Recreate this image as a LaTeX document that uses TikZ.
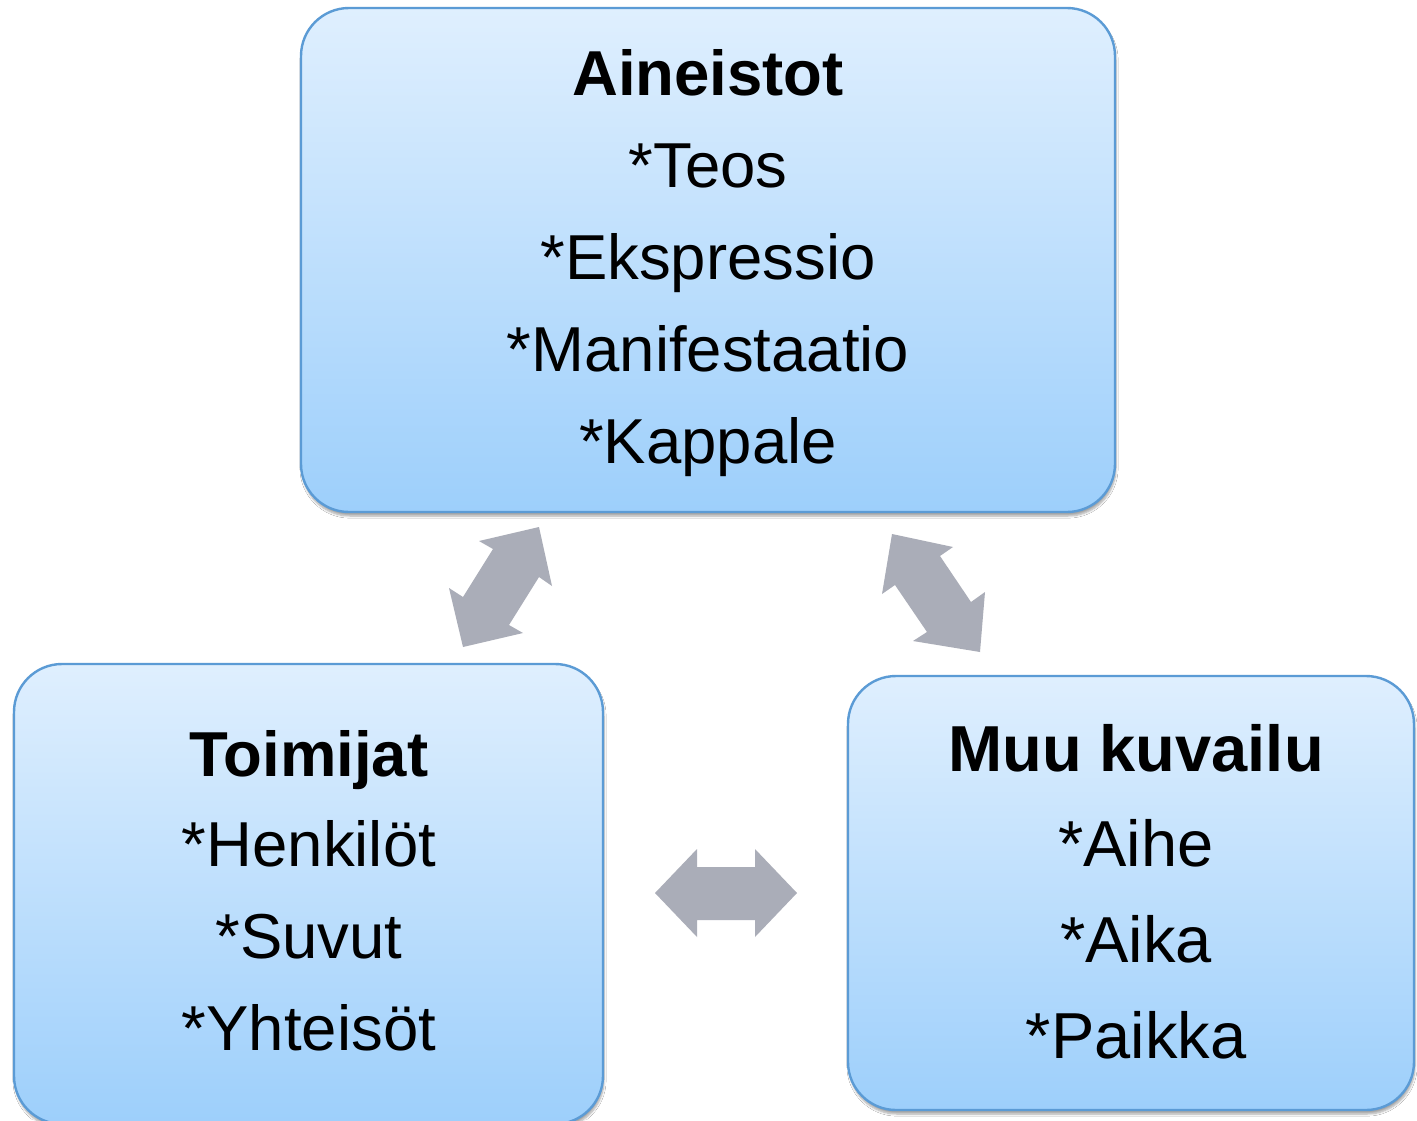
\documentclass[tikz,border=0pt]{standalone}
\usepackage{fontspec}
\setmainfont{Liberation Sans}
\usetikzlibrary{shadows.blur}
\definecolor{boxtop}{RGB}{223,239,254}
\definecolor{boxbot}{RGB}{157,207,251}
\definecolor{boxline}{RGB}{91,155,213}
\definecolor{arrowgray}{RGB}{170,173,184}
\tikzset{
  panel/.style={draw=boxline, line width=2.4pt, rounded corners=48pt,
    top color=boxtop, bottom color=boxbot,
    blur shadow={shadow xshift=1pt, shadow yshift=-4pt, shadow blur steps=6, shadow opacity=35}},
  headA/.style={anchor=base, inner sep=0pt, font=\fontsize{63.5}{70}\selectfont\bfseries},
  itemA/.style={anchor=base, inner sep=0pt, font=\fontsize{63.5}{70}\selectfont},
  headB/.style={anchor=base, inner sep=0pt, font=\fontsize{65}{72}\selectfont\bfseries},
  itemB/.style={anchor=base, inner sep=0pt, font=\fontsize{65}{72}\selectfont},
  blockarrow/.style={fill=arrowgray, draw=none}
}
\begin{document}
\begin{tikzpicture}[x=1pt,y=-1pt]
\useasboundingbox (0,0) rectangle (1417,1120);
\fill[white] (0,0) rectangle (1417,1120);
% boxes
\draw[panel] (301,8) rectangle (1115,512);
\draw[panel] (14,664) rectangle (603,1124);
\draw[panel] (848,676) rectangle (1414,1110);
% top box text
\node[headA] (a0) at (708,95) {Aineistot};
\node[itemA] (a1) at (708,187) {*Teos};
\node[itemA] (a2) at (708,279) {*Ekspressio};
\node[itemA] (a3) at (708,371) {*Manifestaatio};
\node[itemA] (a4) at (708,463) {*Kappale};
% left box text
\node[headA] (t0) at (309,776) {Toimijat};
\node[itemA] (t1) at (309,866) {*Henkilöt};
\node[itemA] (t2) at (309,958) {*Suvut};
\node[itemA] (t3) at (309,1050) {*Yhteisöt};
% right box text
\node[headB] (m0) at (1136,771) {Muu kuvailu};
\node[itemB] (m1) at (1136,866) {*Aihe};
\node[itemB] (m2) at (1136,962) {*Aika};
\node[itemB] (m3) at (1136,1058) {*Paikka};
% arrows
\fill[blockarrow] (539,527) -- (479,541) -- (493,549) -- (463,597) -- (449,588) -- (463,647) -- (523,633) -- (509,625) -- (539,577) -- (552,586) -- cycle;
\fill[blockarrow] (892,534) -- (953,547) -- (940,556) -- (971,602) -- (985,592) -- (980,652) -- (913,641) -- (927,632) -- (895,585) -- (882,594) -- cycle;
\fill[blockarrow] (655,893) -- (697,849) -- (697,867) -- (755,867) -- (755,849) -- (797,893) -- (755,937) -- (755,920) -- (697,920) -- (697,937) -- cycle;
\end{tikzpicture}
\end{document}
